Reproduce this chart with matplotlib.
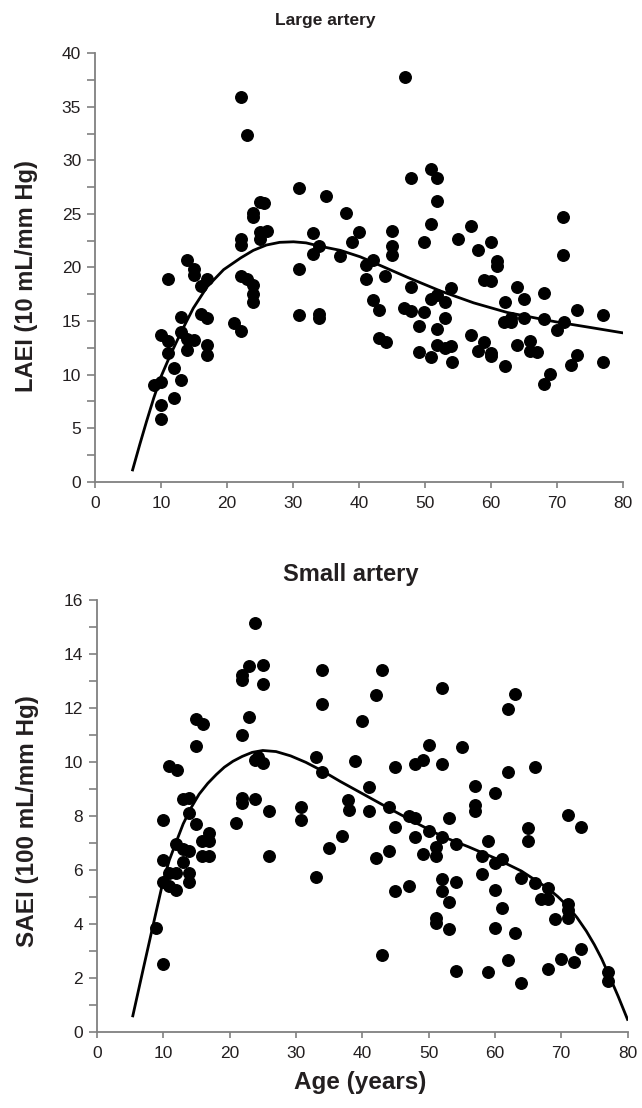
import numpy as np
import matplotlib
matplotlib.use("Agg")
import matplotlib.pyplot as plt
from matplotlib.ticker import MultipleLocator

plt.rcParams['font.family'] = ['Liberation Sans', 'DejaVu Sans']

# ---- Large artery (LAEI) ----
large_age = [22.1, 23.1, 31.0, 35.0, 38.0, 40.0, 39.0, 33.0, 34.0, 33.0, 37.1, 31.0, 31.0, 34.0, 34.0,
             25.0, 25.6, 24.0, 24.0, 25.0, 26.0, 25.0, 22.1, 22.1, 22.1, 23.0, 24.0, 24.0, 24.0, 21.1, 22.1,
             14.0, 15.0, 15.0, 17.0, 16.0, 11.0, 13.0, 16.0, 17.0, 10.0, 11.0, 11.0, 13.0, 14.0, 15.0, 14.0,
             17.0, 17.0, 12.0, 13.0, 9.0, 10.0, 12.0, 10.0, 10.0,
             47.0, 50.9, 51.9, 47.9, 51.9, 50.9, 49.9, 45.0, 45.0, 45.0, 55.0, 57.0, 60.0, 58.0, 61.0, 61.0,
             42.1, 41.1, 41.1, 44.0, 42.1, 43.1, 43.1, 44.1, 47.9, 46.9, 47.9, 49.9, 49.1, 49.1, 50.9,
             50.9, 51.9, 53.0, 54.0, 53.0, 51.9, 51.9, 53.0, 54.0, 54.1, 57.0, 59.0, 58.0, 60.0, 60.0, 62.1,
             59.0, 60.0, 62.1, 62.0, 63.0, 63.0, 64.0, 65.0, 65.0, 64.0, 66.0, 66.0, 67.0, 68.0, 68.0,
             70.1, 71.1, 69.0, 68.0, 71.0, 71.0, 73.1, 73.1, 72.1, 77.0, 77.0]
large_laei = [35.9, 32.4, 27.4, 26.7, 25.1, 23.3, 22.4, 23.2, 22.0, 21.3, 21.1, 19.9, 15.6, 15.7, 15.3,
              26.1, 26.0, 25.1, 24.7, 23.3, 23.4, 22.7, 22.7, 22.1, 19.2, 18.9, 18.4, 17.5, 16.8, 14.8, 14.1,
              20.7, 19.9, 19.3, 18.9, 18.3, 18.9, 15.4, 15.7, 15.3, 13.7, 13.1, 12.0, 14.0, 13.3, 13.2, 12.3,
              12.8, 11.8, 10.6, 9.5, 9.0, 9.3, 7.8, 7.2, 5.9,
              37.8, 29.2, 28.4, 28.4, 26.2, 24.1, 22.4, 23.4, 22.0, 21.2, 22.7, 23.9, 22.4, 21.6, 20.6, 20.1,
              20.7, 20.2, 18.9, 19.2, 17.0, 16.0, 13.4, 13.0, 18.2, 16.2, 15.9, 15.8, 14.5, 12.1, 11.6,
              17.1, 17.4, 16.8, 18.1, 15.3, 14.3, 12.8, 12.5, 12.7, 11.2, 13.7, 13.0, 12.2, 12.0, 11.7, 10.8,
              18.8, 18.7, 16.8, 14.9, 15.3, 14.9, 18.2, 17.1, 15.3, 12.8, 13.1, 12.2, 12.1, 17.6, 15.2,
              14.2, 14.9, 10.1, 9.1, 24.7, 21.2, 16.0, 11.8, 10.9, 15.6, 11.2]

# fitted curve
large_fit_age = [5.7, 6.8, 7.8, 8.9, 10.0, 11.4, 13.0, 14.9, 17.0, 19.5, 22.1, 24.0, 26.0, 28.0, 30.1,
                 32.0, 34.0, 37.2, 40.2, 42.1, 47.3, 52.4, 57.4, 62.5, 67.5, 70.1, 75.1, 80.0]
large_fit = [1.1, 3.5, 5.6, 7.8, 9.8, 11.8, 13.9, 16.2, 18.2, 19.8, 20.9, 21.6, 22.1, 22.35, 22.4,
             22.3, 22.0, 21.6, 21.0, 20.5, 19.1, 17.8, 16.7, 15.8, 15.2, 14.9, 14.4, 13.9]

# ---- Small artery (SAEI) ----
small_age = [23.9, 22.9, 21.9, 21.9, 25.0, 25.0, 34.0, 34.0, 22.9, 21.9, 14.9, 16.0, 14.9, 10.9, 12.0,
             23.9, 25.0, 24.3, 33.0, 34.0, 38.9, 40.0, 21.9, 21.9, 23.9, 25.9, 20.9, 25.9, 30.8, 30.8,
             33.0, 37.8, 37.0, 35.0, 12.9, 13.9, 13.9, 10.0, 14.9, 11.9, 12.9, 13.9, 12.9, 10.0, 10.9,
             11.9, 10.0, 10.9, 11.9, 13.9, 13.9, 16.9, 15.9, 16.9, 15.9, 16.9, 8.9, 9.9,
             43.0, 52.1, 42.0, 63.0, 62.0, 50.0, 55.0, 45.0, 48.0, 49.1, 52.1, 62.0, 66.0, 41.0, 38.0,
             41.0, 44.0, 47.0, 48.0, 45.0, 48.0, 50.0, 52.1, 53.1, 54.1, 57.0, 57.0, 57.0, 60.0, 59.0,
             58.0, 60.0, 61.0, 65.0, 65.0, 71.0, 73.0, 44.0, 42.0, 49.1, 51.1, 51.1, 58.0, 64.0, 66.0,
             68.0, 67.0, 68.0, 71.0, 71.0, 71.0, 69.0, 52.1, 52.1, 54.1, 53.1, 45.0, 47.0, 60.0, 61.0,
             51.1, 51.1, 53.1, 60.0, 63.0, 43.0, 73.0, 70.0, 72.0, 62.0, 68.0, 54.1, 59.0, 64.0, 77.1, 77.1]
small_saei = [15.15, 13.55, 13.23, 13.04, 13.60, 12.90, 13.40, 12.15, 11.68, 11.01, 11.60, 11.42, 10.58, 9.86, 9.70,
              10.08, 9.96, 10.16, 10.18, 9.64, 10.02, 11.50, 8.65, 8.47, 8.62, 8.19, 7.72, 6.52, 8.34, 7.85,
              5.73, 8.57, 7.25, 6.80, 8.62, 8.65, 8.10, 7.85, 7.70, 6.96, 6.76, 6.68, 6.30, 6.36, 5.87,
              5.87, 5.53, 5.40, 5.25, 5.87, 5.53, 7.36, 7.05, 7.05, 6.49, 6.49, 3.83, 2.49,
              13.42, 12.74, 12.47, 12.52, 11.97, 10.63, 10.55, 9.80, 9.93, 10.06, 9.93, 9.64, 9.80, 9.07, 8.22,
              8.19, 8.32, 7.98, 7.91, 7.57, 7.20, 7.45, 7.20, 7.91, 6.96, 9.11, 8.41, 8.19, 8.84, 7.07,
              6.49, 6.24, 6.40, 7.55, 7.07, 8.04, 7.57, 6.70, 6.43, 6.59, 6.84, 6.49, 5.83, 5.69, 5.50,
              5.31, 4.92, 4.92, 4.73, 4.51, 4.21, 4.17, 5.65, 5.22, 5.56, 4.82, 5.22, 5.40, 5.25, 4.58,
              4.21, 4.02, 3.79, 3.83, 3.67, 2.84, 3.05, 2.68, 2.59, 2.66, 2.30, 2.26, 2.22, 1.79, 2.19, 1.88]

small_fit_age = [5.4, 7.0, 8.3, 9.9, 10.9, 11.9, 13.0, 14.2, 15.4, 16.7, 18.0, 19.2, 20.5, 21.9, 23.4,
                 25.0, 27.0, 29.2, 31.5, 34.0, 36.7, 39.8, 44.0, 48.0, 52.1, 56.0, 60.0, 64.0, 68.0,
                 69.5, 71.0, 72.4, 73.8, 75.0, 76.1, 77.1, 78.6, 80.0]
small_fit = [0.58, 2.35, 3.77, 5.5, 6.35, 7.0, 7.7, 8.3, 8.8, 9.2, 9.53, 9.8, 10.02, 10.2, 10.35,
             10.42, 10.38, 10.22, 9.98, 9.66, 9.27, 8.85, 8.28, 7.75, 7.23, 6.85, 6.43, 5.95, 5.31,
             5.0, 4.64, 4.22, 3.72, 3.22, 2.7, 2.15, 1.3, 0.45]

W, H = 642, 1108
fig = plt.figure(figsize=(W / 100, H / 100), dpi=100)

grey = '#808080'
txt = '#231f20'


def style_axis(ax, ymax, ymajor, yminor):
    ax.set_xlim(0, 80)
    ax.set_ylim(0, ymax)
    ax.xaxis.set_major_locator(MultipleLocator(10))
    ax.yaxis.set_major_locator(MultipleLocator(ymajor))
    ax.yaxis.set_minor_locator(MultipleLocator(yminor))
    for side in ['top', 'right']:
        ax.spines[side].set_visible(False)
    for side in ['left', 'bottom']:
        ax.spines[side].set_color(grey)
        ax.spines[side].set_linewidth(1.3)
    ax.tick_params(axis='y', which='both', direction='out', length=6, width=1.2,
                   color=grey, labelsize=12.5, labelcolor=txt, pad=4)
    ax.tick_params(axis='x', which='major', direction='out', length=4.5, width=1.2,
                   color=grey, labelsize=12.5, labelcolor=txt, pad=6)
    ax.patch.set_alpha(0)


def px(x0, y0, x1, y1):
    return [x0 / W, 1 - y1 / H, (x1 - x0) / W, (y1 - y0) / H]


# top panel
ax1 = fig.add_axes(px(95, 53.3, 622.7, 481.7))
ax1.plot(large_fit_age, large_fit, color='black', lw=2.0, zorder=2)
ax1.plot(large_age, large_laei, 'o', color='black', ms=8.3, zorder=3, clip_on=False)
style_axis(ax1, 40, 5, 2.5)

# bottom panel
ax2 = fig.add_axes(px(97, 600, 627.5, 1031.5))
ax2.plot(small_fit_age, small_fit, color='black', lw=2.0, zorder=2)
ax2.plot(small_age, small_saei, 'o', color='black', ms=8.3, zorder=3, clip_on=False)
style_axis(ax2, 16, 2, 1)

fig.text(325 / W, 1 - 20 / H, 'Large artery', ha='center', va='center',
         fontsize=12.5, fontweight='bold', color=txt)
fig.text(351 / W, 1 - 574 / H, 'Small artery', ha='center', va='center',
         fontsize=17, fontweight='bold', color=txt)
fig.text(27 / W, 1 - 276 / H, 'LAEI (10 mL/mm Hg)', ha='center', va='center',
         rotation=90, fontsize=17, fontweight='bold', color=txt)
fig.text(28 / W, 1 - 821 / H, 'SAEI (100 mL/mm Hg)', ha='center', va='center',
         rotation=90, fontsize=17.5, fontweight='bold', color=txt)
fig.text(360 / W, 1 - 1083 / H, 'Age (years)', ha='center', va='center',
         fontsize=17.5, fontweight='bold', color=txt)

fig.savefig('out.png', dpi=100)
